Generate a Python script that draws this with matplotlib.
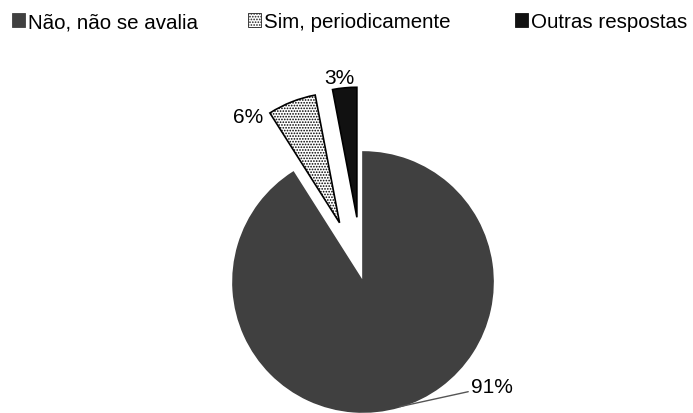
import numpy as np
import matplotlib
import matplotlib.pyplot as plt
from matplotlib.patches import Patch

plt.rcParams['font.family'] = ['Liberation Sans', 'DejaVu Sans']
plt.rcParams['hatch.linewidth'] = 0.8

# respostas (%)
labels = ['Não, não se avalia', 'Sim, periodicamente', 'Outras respostas']
values = [91, 6, 3]
explode = [0, 0.49, 0.5]
colors = ['#404040', 'white', '#111111']
hatches = [None, '......', None]

fig = plt.figure(figsize=(6.93, 4.14), dpi=100)
ax = fig.add_axes([0, 0, 1, 1])

# coordenadas em pixels, y para cima
cx, cy, r = 363, 131, 130
wedges, _ = ax.pie(values, explode=[e * r for e in explode], colors=colors,
                   startangle=90, counterclock=False, center=(cx, cy), radius=r,
                   wedgeprops=dict(linewidth=1.2), frame=False)
wedges[0].set_edgecolor('#404040')
wedges[1].set_edgecolor('black')
wedges[1].set_hatch(hatches[1])
wedges[2].set_edgecolor('black')
ax.set_xlim(0, 693)
ax.set_ylim(0, 414)
ax.set_aspect('equal')
ax.axis('off')

# rótulos
pct = ['%d%%' % v for v in values]
ang = np.deg2rad(-73.5)
ax.annotate(pct[0], xy=(cx + r * np.cos(ang), cy + r * np.sin(ang)),
            xytext=(471, 26.5), ha='left', va='center', fontsize=15,
            arrowprops=dict(arrowstyle='-', color='#555555', lw=1,
                            shrinkA=0, shrinkB=0))
ax.text(248, 296.5, pct[1], ha='center', va='center', fontsize=15)
ax.text(339, 335.5, pct[2], ha='center', va='center', fontsize=15)

# legenda
pos = [12, 248, 515]
for lab, c, h, x in zip(labels, colors, hatches, pos):
    hd = Patch(facecolor=c, edgecolor='#222222' if h else c, hatch=h, linewidth=0.6)
    fig.legend(handles=[hd], labels=[lab], loc='center left',
               bbox_to_anchor=(x / 693, 1 - 23 / 414), frameon=False,
               borderpad=0, borderaxespad=0, handlelength=0.65,
               handleheight=0.65, handletextpad=0.15, fontsize=14.8)

fig.savefig('out.png', dpi=100)
